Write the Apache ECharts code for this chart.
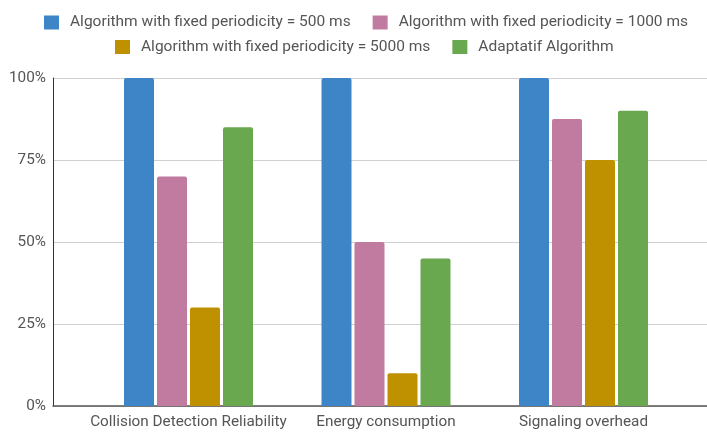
<!DOCTYPE html>
<html>
<head>
<meta charset="utf-8">
<script src="https://cdn.jsdelivr.net/npm/echarts@6/dist/echarts.min.js"></script>
<style>html,body{margin:0;padding:0;background:#fff}#c{width:707px;height:432px}</style>
</head>
<body>
<div id="c"></div>
<script>
const categories = ['Collision Detection Reliability', 'Energy consumption', 'Signaling overhead'];
const seriesNames = [
  'Algorithm with fixed periodicity = 500 ms',
  'Algorithm with fixed periodicity = 1000 ms',
  'Algorithm with fixed periodicity = 5000 ms',
  'Adaptatif Algorithm'
];
const fixed500 = [100, 100, 100];
const fixed1000 = [70, 50, 87.5];
const fixed5000 = [30, 10, 75];
const adaptive = [85, 45, 90];
const yTicks = [0, 25, 50, 75, 100];
const colors = ['#3d85c6', '#c27ba0', '#bf9000', '#6aa84f'];

const values = [fixed500, fixed1000, fixed5000, adaptive];
const font = 'Roboto';
const fs = 15.3;
const gTop = 78, gBottom = 26;

const legendText = {color: '#555', fontFamily: font, fontSize: 15.5, padding: [0, 0, 0, 6]};
const chart = echarts.init(document.getElementById('c'), null, {renderer: 'canvas'});
chart.setOption({
  animation: false,
  color: colors,
  legend: [
    {data: seriesNames.slice(0, 2), left: 39, top: 9.5, itemWidth: 15, itemHeight: 14, itemGap: 22,
     icon: 'rect', textStyle: legendText},
    {data: seriesNames.slice(2, 4), left: 110, top: 34, itemWidth: 15, itemHeight: 14, itemGap: 22,
     icon: 'rect', textStyle: legendText}
  ],
  grid: [
    {left: 53, right: 0, top: gTop, bottom: gBottom},
    {left: 89.75, right: 24.75, top: gTop, bottom: gBottom}
  ],
  xAxis: [
    {gridIndex: 0, type: 'value', min: 0, max: 1, axisLabel: {show: false}, axisTick: {show: false},
     splitLine: {show: false}, axisLine: {show: true, onZero: false, lineStyle: {color: '#555', width: 1.5}}},
    {gridIndex: 1, type: 'category', data: categories, axisLine: {show: false}, axisTick: {show: false},
     axisLabel: {interval: 0, color: '#555', fontFamily: font, fontSize: fs, margin: 9}}
  ],
  yAxis: [
    {gridIndex: 0, type: 'value', min: 0, max: 100, interval: 25,
     axisLabel: {formatter: v => yTicks.includes(v) ? v + '%' : '', color: '#555', fontFamily: font, fontSize: fs, margin: 7},
     axisLine: {show: true, lineStyle: {color: '#333', width: 1}}, axisTick: {show: false},
     splitLine: {lineStyle: {color: '#d0d0d0', width: 1}}},
    {gridIndex: 1, type: 'value', min: 0, max: 100, show: false, splitLine: {show: false}}
  ],
  series: seriesNames.map((n, i) => ({
    name: n, type: 'bar', xAxisIndex: 1, yAxisIndex: 1, data: values[i],
    barWidth: 30, barGap: '10%',
    itemStyle: {color: colors[i], borderRadius: [2, 2, 0, 0]}
  }))
});
</script>
</body>
</html>
